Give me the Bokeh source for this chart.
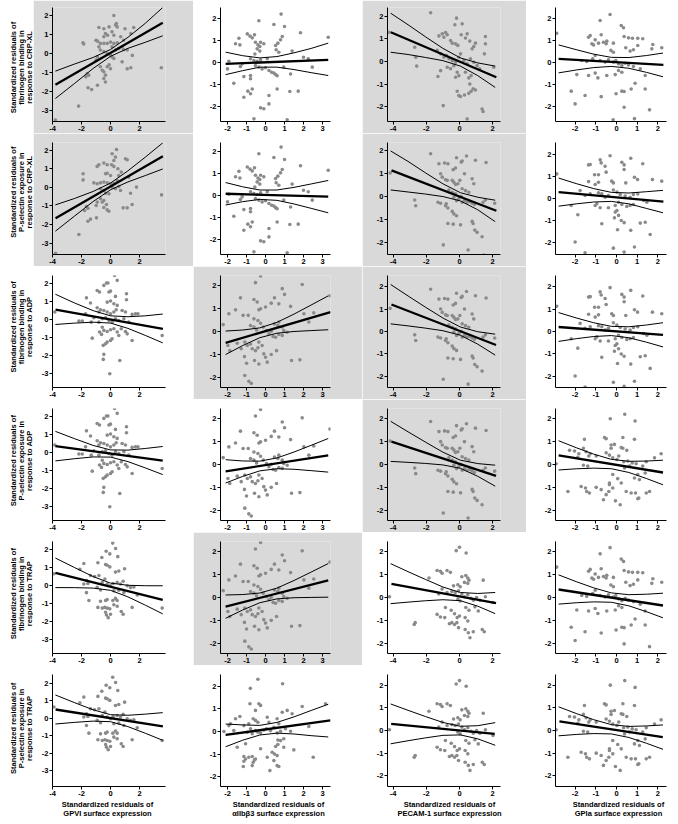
import math
from bokeh.plotting import figure
from bokeh.layouts import column, row
from bokeh.models import Range1d, FixedTicker, Spacer
from bokeh.core.properties import value
from bokeh.embed import file_html
from bokeh.resources import INLINE

# ---------------- text ----------------
ROW_LABELS = [
    ["Standardized residuals of", "fibrinogen binding in", "response to CRP-XL"],
    ["Standardized residuals of", "P-selectin exposure in", "response to CRP-XL"],
    ["Standardized residuals of", "fibrinogen binding in", "response to ADP"],
    ["Standardized residuals of", "P-selectin exposure in", "response to ADP"],
    ["Standardized residuals of", "fibrinogen binding in", "response to TRAP"],
    ["Standardized residuals of", "P-selectin exposure in", "response to TRAP"],
]
COL_LABELS = [
    ["Standardized residuals of", "GPVI surface expression"],
    ["Standardized residuals of", "\u03b1IIb\u03b23 surface expression"],
    ["Standardized residuals of", "PECAM-1 surface expression"],
    ["Standardized residuals of", "GPIa surface expression"],
]
X_TICKS = [[-4, -2, 0, 2], [-2, -1, 0, 1, 2, 3], [-4, -2, 0, 2], [-2, -1, 0, 1, 2]]
Y_TICKS = [[-3, -2, -1, 0, 1, 2], [-2, -1, 0, 1, 2], [-2, -1, 0, 1, 2], [-2, -1, 0, 1, 2]]
X_RANGES = [(-4.0, 3.79), (-2.37, 3.42), (-4.34, 2.47), (-2.95, 2.42)]
Y_RANGES = [
    [(-3.58, 2.42), (-2.68, 2.5), (-2.64, 2.38), (-2.68, 2.5)],
    [(-3.62, 2.43), (-2.68, 2.41), (-2.54, 2.37), (-2.55, 2.55)],
    [(-3.78, 2.44), (-2.43, 2.43), (-2.49, 2.49), (-2.49, 2.49)],
    [(-3.78, 2.44), (-2.45, 2.45), (-2.45, 2.45), (-2.45, 2.45)],
    [(-3.78, 2.44), (-2.45, 2.45), (-2.45, 2.45), (-2.45, 2.45)],
    [(-3.89, 2.51), (-2.42, 2.51), (-2.47, 2.47), (-2.47, 2.47)],
]
HIGHLIGHT = [(0, 0), (1, 0), (0, 2), (1, 2), (2, 1), (2, 2), (3, 2), (4, 1)]

# x positions at which the confidence bands were read, per column
CI_X = [
    [-3.8, -2.5, -1.2, 0.0, 1.2, 2.4, 3.6],
    [-2.1, -1.2, -0.3, 0.6, 1.5, 2.4, 3.3],
    [-4.15, -3.1, -2.05, -1.0, 0.05, 1.1, 2.15],
    [-2.8, -1.95, -1.1, -0.25, 0.6, 1.45, 2.25],
]

# ---------------- scatter data (x, y) ----------------
pts_r1c1 = [(0.23,2.0),(-2.2,-2.77),(3.5,-0.75),(-1.9,0.56),(-1.85,0.5),(-0.8,1.37),(-0.46,1.3),(-0.1,1.4),(0.35,1.5),(0.46,1.4),(0.4,1.58),(1.0,1.3),(1.4,1.05),(1.6,1.37),(-1.0,0.7),(-0.9,0.65),(-0.35,1.05),(-0.2,0.96),(-0.46,0.88),(0.1,1.14),(0.23,0.96),(-0.46,0.53),(-0.23,0.53),(0.0,0.6),(0.23,0.53),(0.46,0.56),(0.57,0.26),(0.8,0.35),(-0.7,0.18),(-0.46,0.1),(-0.23,0.0),(0.0,-0.1),(0.1,-0.18),(0.23,-0.26),(0.9,0.2),(1.15,0.18),(1.5,-0.1),(0.8,-0.44),(1.15,-0.8),(1.4,-0.75),(-0.9,-0.18),(-1.0,-0.35),(-0.7,-0.7),(-0.57,-0.88),(-0.46,-0.96),(-0.35,-1.14),(-0.23,-0.7),(-0.1,-0.6),(0.0,-0.8),(-0.46,-1.32),(-0.35,-1.5),(-1.6,-1.05),(-1.5,-1.14),(-1.7,-1.23),(-1.55,-1.8),(-1.3,-1.9),(-0.9,-1.67),(-0.7,0.53),(-0.8,0.35),(0.1,0.35),(0.35,0.18),(0.7,0.88),(0.9,0.7),(-3.8,-3.5)]
pts_r1c2 = [(-0.35,1.9),(0.82,2.2),(0.44,1.73),(1.0,1.64),(1.84,1.35),(3.3,1.15),(-0.96,1.3),(-0.82,1.2),(-0.7,1.12),(-0.58,1.26),(-1.4,1.1),(-1.58,0.85),(-1.35,0.8),(-0.53,0.92),(-0.4,0.8),(-0.26,0.92),(-0.3,0.73),(-0.09,0.85),(-0.44,0.62),(-0.3,0.52),(-0.56,0.39),(0.53,0.77),(0.65,0.88),(0.79,1.03),(0.88,1.18),(0.56,0.58),(0.7,0.47),(1.4,0.52),(2.0,0.24),(2.25,0.17),(-1.93,0.06),(-2.0,-0.29),(-1.32,-0.18),(-1.23,-0.06),(-0.79,0.17),(-0.61,0.09),(-0.44,0.05),(-0.26,0.12),(0.09,0.17),(-0.53,-0.14),(-0.35,-0.21),(-0.18,-0.29),(0.0,-0.24),(0.18,-0.36),(0.32,-0.44),(0.44,-0.48),(0.53,-0.55),(0.61,-0.6),(0.96,-0.21),(1.32,-0.52),(2.46,-0.21),(-0.79,-0.59),(-0.79,-0.74),(-1.14,-0.64),(-1.67,-0.94),(-0.93,-1.3),(-0.7,-1.2),(-0.79,-1.42),(-1.14,-1.58),(0.61,-1.2),(1.28,-1.32),(1.72,-1.3),(0.18,-1.5),(0.18,-1.88),(-0.26,-2.06),(-0.09,-2.1),(-0.61,-2.56),(1.14,-2.6)]
pts_r1c3 = [(-4.24,1.29),(-1.74,2.15),(-2.7,0.63),(-2.64,0.19),(-2.58,-0.2),(-1.24,1.13),(-1.04,1.22),(-0.94,1.07),(-0.84,1.28),(-0.74,1.18),(-0.18,1.91),(0.16,1.66),(-0.28,1.62),(0.1,1.18),(0.36,1.04),(0.46,1.22),(0.62,0.9),(0.96,0.81),(0.86,0.66),(0.76,0.56),(1.56,1.1),(1.56,0.78),(1.5,0.34),(-0.54,0.93),(-0.44,0.81),(-0.24,0.78),(-0.1,0.71),(-1.34,0.49),(-1.14,0.34),(-0.94,0.19),(-0.78,0.26),(-0.64,0.12),(-0.44,0.04),(-0.24,-0.03),(-0.04,0.19),(0.06,0.34),(0.26,0.04),(0.46,-0.1),(0.66,0.12),(0.86,-0.03),(1.06,-0.18),(1.22,-0.32),(-0.74,-0.25),(-0.54,-0.32),(-0.34,-0.18),(-1.14,-0.4),(-1.3,-0.66),(-0.14,-0.47),(-0.04,-0.62),(-0.24,-0.69),(0.36,-0.47),(0.56,-0.72),(0.7,-0.62),(0.62,-0.99),(0.82,-1.2),(0.96,-1.25),(-0.14,-1.31),(-0.04,-1.5),(0.06,-1.54),(0.3,-1.47),(0.56,-1.4),(0.7,-1.31),(-0.98,-1.94),(1.36,-2.09),(1.42,-2.2),(0.46,-2.53),(2.06,-0.25)]
pts_r1c4 = [(-2.89,1.33),(-0.31,2.18),(-0.79,1.91),(0.23,1.68),(0.34,1.58),(-1.35,1.15),(-1.27,1.23),(-1.03,1.03),(-0.87,0.88),(-1.11,0.8),(-1.19,0.85),(-0.74,1.26),(-0.63,0.92),(-0.5,0.85),(-0.47,0.97),(-0.15,0.88),(0.37,1.18),(0.58,1.12),(0.77,1.1),(1.03,1.1),(1.27,1.08),(0.45,0.67),(0.66,0.52),(0.82,0.58),(1.03,0.77),(1.76,0.82),(1.71,0.62),(2.19,0.67),(-0.27,0.55),(-0.15,0.47),(-1.03,0.32),(-1.15,0.17),(-1.68,0.09),(-1.44,0.05),(-0.79,0.09),(-0.55,0.02),(-0.39,0.12),(-0.15,0.02),(-0.03,0.09),(0.1,-0.06),(0.26,-0.14),(0.42,-0.03),(0.58,-0.11),(0.82,-0.18),(1.15,-0.29),(1.39,-0.59),(-1.92,-0.55),(-1.35,-0.59),(-1.03,-0.48),(-0.9,-0.7),(-0.47,-0.59),(-0.06,-0.55),(0.1,-0.36),(0.26,-0.44),(-2.19,-1.3),(-1.52,-1.5),(-2.0,-1.88),(-0.74,-1.55),(-0.02,-1.42),(0.26,-1.3),(0.37,-1.32),(0.71,-1.2),(0.9,-0.94),(1.39,-1.2),(0.37,-2.03),(1.6,-2.15),(-0.16,-2.6),(0.87,-2.55)]
pts_r2c1 = [(-2.18,-2.54),(3.52,-0.4),(-3.79,-3.55),(0.41,2.05),(0.11,1.82),(0.34,1.64),(0.23,1.46),(1.03,1.55),(1.15,1.5),(-0.92,1.14),(-0.8,1.23),(-0.46,1.32),(-0.23,1.23),(0.07,1.23),(0.23,1.14),(0.51,1.01),(-0.34,0.74),(-0.23,0.77),(0.0,0.65),(-1.89,0.74),(-1.89,0.41),(-1.15,0.25),(-0.92,0.2),(-0.69,0.25),(-0.46,0.29),(-0.23,0.25),(0.0,0.2),(0.23,0.23),(0.46,0.38),(0.57,0.65),(0.74,0.83),(1.26,0.56),(-0.69,-0.07),(-0.46,-0.16),(-0.34,-0.31),(-0.11,-0.34),(0.11,0.02),(0.34,-0.07),(0.57,0.05),(0.69,-0.16),(1.38,-0.31),(1.79,0.02),(-0.69,-0.61),(-0.57,-0.79),(-0.46,-0.7),(-0.28,-0.92),(-0.92,-0.79),(-0.99,-0.97),(-0.46,-1.08),(-0.23,-1.21),(-0.11,-1.28),(0.87,-1.1),(1.15,-1.1),(1.49,-0.92),(-1.66,-1.03),(-1.56,-1.12),(-1.79,-1.24),(-0.97,-1.64),(-1.56,-1.82),(-1.38,-1.71)]
pts_r2c3 = [(-4.18,1.03),(-1.74,1.88),(-2.7,-0.15),(-2.64,-0.4),(-1.24,1.44),(-0.9,1.47),(-0.7,1.44),(-0.18,1.7),(0.1,1.51),(0.16,1.56),(0.42,1.78),(0.96,1.59),(1.6,1.49),(-0.38,1.18),(-0.24,1.25),(0.3,1.0),(-1.14,1.0),(-1.04,0.85),(-0.84,0.74),(-0.74,0.71),(-0.44,0.71),(-0.34,0.63),(-0.24,0.53),(-0.1,0.56),(0.02,0.71),(0.76,0.78),(0.86,0.56),(0.16,0.34),(0.36,0.26),(0.56,0.19),(-0.64,0.29),(-0.44,0.19),(-0.24,0.12),(-1.3,-0.25),(-1.14,-0.29),(-0.84,-0.4),(-0.7,-0.5),(-0.8,-0.32),(-0.34,-0.03),(-0.18,-0.18),(-0.04,-0.1),(0.1,0.0),(0.16,-0.25),(0.3,-0.18),(0.46,-0.25),(0.62,-0.22),(0.76,-0.29),(0.9,-0.35),(1.42,-0.25),(1.56,-0.15),(2.12,-0.29),(-0.44,-0.65),(-0.34,-0.76),(-0.18,-0.84),(-0.7,-1.18),(-0.38,-1.21),(0.06,-1.24),(0.76,-1.09),(0.82,-1.18),(0.92,-1.47),(1.06,-1.57),(1.36,-1.76),(-0.98,-2.12),(0.52,-2.34),(1.46,-2.56),(-0.04,-2.6)]
pts_r2c4 = [(-2.89,1.12),(-0.31,1.95),(0.69,1.83),(1.27,1.58),(-1.35,1.53),(-1.27,1.55),(-0.79,1.76),(-0.74,1.62),(-0.55,1.47),(-0.5,1.2),(-1.06,1.08),(-0.87,1.08),(0.26,1.65),(0.37,1.53),(0.37,1.32),(0.87,0.97),(1.02,0.86),(1.74,0.86),(2.19,0.79),(-1.35,0.77),(-1.03,0.64),(-0.87,0.74),(-0.23,0.79),(-0.15,0.71),(0.45,0.71),(-1.76,0.36),(-1.52,0.14),(-1.27,0.21),(-0.87,0.26),(-0.71,0.21),(-0.15,0.39),(0.02,0.29),(0.18,0.18),(0.42,0.11),(0.66,0.06),(0.82,0.18),(-0.55,0.06),(-0.39,0.14),(1.03,0.21),(1.31,-0.09),(1.47,-0.17),(-2.19,-0.32),(-1.03,-0.32),(-0.95,-0.24),(-0.79,-0.42),(-0.39,-0.42),(-0.06,-0.32),(0.1,-0.17),(0.26,-0.27),(0.5,-0.36),(0.66,-0.32),(0.82,-0.27),(-1.87,-0.74),(-0.06,-0.62),(0.02,-0.55),(0.1,-0.77),(-0.1,-0.88),(-0.71,-1.15),(0.23,-1.0),(0.37,-1.1),(1.15,-1.12),(1.39,-1.08),(1.63,-1.64),(0.05,-1.42),(0.69,-1.45),(-2.0,-1.98),(-0.15,-2.26),(0.87,-2.21),(-1.52,-2.47),(0.37,-2.44)]
pts_r3c1 = [(-3.84,0.41),(3.56,-0.89),(0.28,2.44),(0.46,2.17),(-0.28,2.02),(-0.11,1.52),(0.0,1.57),(-0.92,1.61),(-0.76,1.52),(-0.46,1.89),(-0.18,2.02),(-1.66,1.2),(-1.38,0.91),(1.1,1.43),(1.1,1.09),(0.34,1.28),(-0.23,0.96),(0.0,1.02),(0.23,0.87),(0.46,0.78),(-0.92,0.65),(-0.69,0.54),(-0.8,0.41),(-0.46,0.5),(-0.23,0.41),(0.0,0.31),(0.23,0.41),(0.39,0.54),(0.8,0.5),(1.03,0.41),(-1.72,0.31),(-1.95,-0.09),(-2.18,-0.09),(-1.33,-0.15),(-1.15,0.09),(-0.8,-0.15),(-0.57,0.04),(-0.34,0.09),(-0.11,-0.06),(0.11,-0.15),(0.34,0.04),(0.57,-0.06),(1.49,0.28),(1.72,0.31),(1.89,0.31),(0.92,0.04),(1.26,-0.15),(-0.57,-0.43),(-0.46,-0.61),(-0.23,-0.67),(0.0,-0.57),(0.23,-0.52),(0.46,-0.7),(0.57,-0.89),(0.74,-0.52),(1.03,-0.67),(1.15,-0.8),(1.49,-1.17),(-1.26,-1.04),(-0.76,-0.7),(-0.62,-0.83),(-0.5,-1.44),(-0.34,-1.35),(-0.23,-1.26),(0.0,-1.17),(0.11,-1.07),(-0.46,-1.94),(-0.5,-2.22),(0.64,-2.28),(-0.05,-3.02)]
pts_r3c2 = [(-2.23,0.3),(-1.93,0.77),(-1.58,0.94),(-1.32,1.46),(-1.18,0.7),(-0.91,0.7),(-0.53,2.12),(-0.26,2.41),(-0.61,1.39),(-0.44,1.28),(-0.35,0.94),(-0.26,0.99),(0.0,1.06),(0.3,1.23),(0.47,1.46),(0.7,1.2),(0.88,1.86),(1.0,1.61),(1.93,2.04),(1.32,1.09),(2.02,0.77),(2.28,0.41),(2.54,0.81),(3.39,1.55),(-0.61,0.55),(-0.4,0.48),(-0.26,0.36),(-0.79,0.26),(-0.61,0.19),(-0.47,0.07),(-0.12,0.19),(0.05,0.04),(0.18,-0.1),(0.3,0.01),(0.4,-0.22),(0.53,-0.25),(0.7,-0.13),(0.88,-0.17),(0.7,0.41),(0.88,0.19),(0.96,0.04),(0.47,0.33),(0.65,0.26),(1.14,-0.03),(-1.98,-0.61),(-1.88,-0.83),(-1.49,-0.51),(-1.28,-0.75),(-1.09,-0.46),(-0.96,-0.61),(-0.79,-0.54),(-0.7,-0.75),(-0.53,-0.83),(-0.4,-0.71),(-0.35,-0.46),(-0.18,-0.61),(-0.09,-0.97),(0.0,-1.12),(0.3,-1.0),(0.58,-0.83),(-1.11,-1.09),(-1.0,-1.38),(-0.58,-1.26),(-0.35,-1.41),(0.09,-1.33),(1.37,-1.26),(1.81,-1.23),(-1.09,-1.91),(-0.88,-2.16),(-0.75,-2.25)]
pts_r6c1 = [(-2.11,0.9),(-1.84,1.22),(-0.87,1.26),(-0.34,1.16),(-0.23,1.12),(-0.05,1.03),(0.34,0.74),(0.57,0.8),(0.97,0.93),(-1.66,0.27),(-1.38,0.55),(-1.1,0.5),(-0.8,0.55),(-1.84,0.08),(-1.56,0.11),(-0.57,0.17),(-0.39,0.36),(-0.23,0.08),(0.0,-0.02),(0.18,0.11),(0.46,0.17),(0.69,0.08),(0.87,0.23),(1.15,-0.02),(1.38,-0.11),(1.61,-0.08),(1.84,-0.53),(-0.92,-0.11),(-0.69,-0.25),(0.23,-0.3),(0.57,-0.27),(0.92,-0.4),(-1.66,-0.4),(-1.49,-0.84),(-0.69,-0.88),(-0.34,-0.84),(-0.23,-0.78),(0.16,-0.84),(0.34,-0.72),(0.46,-0.84),(-0.87,-1.22),(-0.57,-1.26),(-0.39,-1.22),(-0.23,-1.26),(-0.05,-1.3),(0.23,-1.07),(0.46,-1.16),(0.74,-1.45),(0.87,-1.6),(1.49,-1.22),(-0.34,-1.49),(-0.28,-1.64),(-0.16,-1.79),(0.0,-1.6),(3.56,-1.26),(-3.9,0.65),(0.15,2.35),(0.35,2.05),(-0.3,1.9),(-0.05,1.75),(0.5,1.6),(-0.6,1.55)]
pts_r6c2 = [(-2.19,0.0),(-1.93,0.26),(-1.84,0.34),(-1.58,0.56),(-1.35,0.66),(-0.82,1.22),(-0.35,1.22),(-0.26,1.15),(-0.53,0.93),(-0.65,0.56),(-0.53,0.49),(-0.4,0.41),(0.09,0.63),(0.18,0.41),(0.61,0.56),(0.88,0.85),(1.14,0.93),(1.4,0.78),(1.93,1.1),(2.28,0.22),(3.16,1.22),(-0.88,0.34),(-0.79,0.12),(-0.53,0.04),(-0.4,-0.03),(-0.26,-0.07),(-0.09,0.07),(0.05,0.12),(0.26,0.04),(0.44,0.19),(0.7,0.34),(0.61,-0.07),(0.79,0.01),(1.05,0.12),(1.32,0.01),(-1.14,0.26),(-1.67,0.04),(-0.96,-0.03),(-0.7,-0.1),(-1.49,-0.69),(-1.05,-0.54),(-0.26,-0.76),(0.65,-0.37),(0.79,-0.4),(0.96,-0.32),(0.53,-0.66),(0.65,-0.57),(0.96,-0.69),(1.49,-0.81),(-1.14,-1.1),(-1.05,-1.21),(-0.88,-1.13),(-0.7,-1.1),(-0.53,-1.21),(-0.65,-1.35),(-0.58,-1.25),(-1.14,-1.31),(-1.17,-1.54),(-0.7,-1.5),(0.35,-0.91),(0.47,-0.99),(0.61,-1.06),(0.09,-1.13),(0.44,-1.28),(0.61,-1.5),(0.7,-1.54),(0.23,-1.72),(2.51,-1.13),(-0.4,2.3),(0.9,2.1),(-0.8,1.9)]
pts_r6c3 = [(-4.22,0.03),(-2.73,-1.18),(-2.67,-1.1),(-1.84,0.85),(-1.35,1.18),(-1.15,1.15),(-1.05,1.06),(-0.75,1.18),(-0.55,1.1),(0.14,0.91),(0.38,0.96),(0.5,0.85),(0.3,0.66),(0.5,0.62),(0.57,0.76),(1.43,0.76),(-0.36,0.51),(-0.1,0.56),(0.04,0.47),(-1.05,0.37),(-0.75,0.22),(-0.46,0.26),(-0.26,0.22),(-0.06,0.29),(-1.25,0.15),(0.14,0.15),(0.3,0.03),(0.5,0.12),(0.69,-0.03),(0.83,-0.12),(1.03,0.0),(1.23,-0.12),(1.56,0.03),(2.02,-0.22),(-0.1,-0.07),(0.04,-0.15),(-0.85,-0.44),(-0.5,-0.56),(0.38,-0.44),(0.57,-0.56),(0.93,-0.41),(-1.35,-0.74),(-1.15,-0.85),(-0.89,-0.88),(-0.3,-0.71),(-0.14,-0.88),(0.0,-0.81),(0.34,-0.88),(0.5,-1.03),(1.13,-0.59),(-0.61,-1.15),(-0.46,-1.1),(-0.3,-1.18),(-0.16,-1.1),(-0.06,-1.32),(0.34,-1.4),(0.53,-1.54),(0.83,-1.5),(1.37,-1.4),(1.49,-1.5),(0.63,-1.76),(0.0,2.2),(0.4,1.95),(-0.2,2.05)]
pts_r6c4 = [(-2.92,0.03),(-2.27,0.62),(-2.03,0.59),(-1.82,0.47),(-1.87,0.32),(-1.6,0.71),(-1.47,0.56),(-1.55,1.1),(-1.34,0.37),(-1.27,0.47),(-0.98,0.37),(-0.58,1.18),(-0.5,1.13),(-0.26,0.85),(-0.1,0.88),(-0.26,0.71),(0.31,1.18),(0.23,0.74),(0.31,0.71),(0.5,0.62),(0.87,1.1),(-0.5,0.51),(-0.34,0.41),(-0.18,0.29),(0.02,0.22),(0.11,0.37),(0.35,0.12),(0.55,0.15),(0.76,0.07),(0.95,0.03),(1.27,-0.07),(1.44,0.12),(1.84,0.29),(2.16,0.47),(-1.6,-0.03),(-1.39,-0.07),(0.39,-0.15),(0.63,-0.07),(1.03,-0.44),(0.87,-0.59),(1.11,-0.66),(1.39,-0.37),(-0.18,-0.44),(0.06,-0.62),(-0.34,-0.81),(0.23,-0.81),(-1.71,-0.96),(-1.5,-1.03),(-2.35,-1.18),(-1.44,-1.18),(-1.31,-1.25),(-0.98,-1.0),(-0.74,-1.1),(-0.34,-0.88),(-0.18,-1.03),(-0.5,-1.32),(-0.37,-1.18),(-0.05,-1.59),(0.18,-1.76),(0.47,-1.18),(0.71,-1.25),(0.92,-1.25),(1.03,-1.5),(1.08,-1.47),(1.44,-1.25),(-0.63,-1.54),(1.6,-1.18),(0.4,2.2),(-0.3,2.0),(0.9,1.9)]
# provisional: panels still to be read in detail
pts_r2c2 = pts_r1c2
pts_r3c3 = pts_r2c3
pts_r3c4 = pts_r2c4
pts_r4c1 = pts_r3c1
pts_r4c2 = pts_r3c2
pts_r4c3 = pts_r2c3
pts_r4c4 = pts_r6c4
pts_r5c1 = pts_r6c1
pts_r5c2 = pts_r3c2
pts_r5c3 = pts_r6c3
pts_r5c4 = pts_r1c4

# ---------------- fitted lines (x0, y0, x1, y1) ----------------
fit_r1c1 = (-3.8, -1.65, 3.6, 1.62)
fit_r1c2 = (-2.1, -0.06, 3.3, 0.12)
fit_r1c3 = (-4.14, 1.29, 2.22, -0.69)
fit_r1c4 = (-2.8, 0.17, 2.27, -0.11)
fit_r2c1 = (-3.79, -1.66, 3.61, 1.69)
fit_r2c2 = (-2.1, 0.08, 3.3, -0.05)
fit_r2c3 = (-4.1, 1.15, 2.22, -0.62)
fit_r2c4 = (-2.8, 0.29, 2.27, -0.14)
fit_r3c1 = (-3.79, 0.54, 3.61, -0.52)
fit_r3c2 = (-2.1, -0.49, 3.42, 0.84)
fit_r3c3 = (-4.1, 1.2, 2.2, -0.6)
fit_r3c4 = (-2.8, 0.2, 2.25, -0.15)
fit_r4c1 = (-3.8, 0.35, 3.6, -0.45)
fit_r4c2 = (-2.1, -0.3, 3.3, 0.4)
fit_r4c3 = (-4.1, 1.0, 2.2, -0.5)
fit_r4c4 = (-2.8, 0.4, 2.25, -0.35)
fit_r5c1 = (-3.8, 0.7, 3.6, -0.8)
fit_r5c2 = (-2.1, -0.4, 3.3, 0.75)
fit_r5c3 = (-4.1, 0.6, 2.2, -0.25)
fit_r5c4 = (-2.8, 0.35, 2.25, -0.35)
fit_r6c1 = (-3.79, 0.51, 3.61, -0.46)
fit_r6c2 = (-2.1, -0.15, 3.42, 0.49)
fit_r6c3 = (-4.12, 0.29, 2.12, -0.15)
fit_r6c4 = (-2.76, 0.4, 2.24, -0.29)

# ---------------- 95% bands, read at CI_X of the column ----------------
up_r1c1 = [-0.93, -0.56, -0.21, 0.21, 0.85, 1.59, 2.42]
lo_r1c1 = [-2.37, -1.59, -0.79, -0.15, 0.27, 0.59, 0.93]
up_r1c2 = [0.47, 0.31, 0.21, 0.27, 0.44, 0.64, 0.88]
lo_r1c2 = [-0.55, -0.37, -0.21, -0.21, -0.32, -0.46, -0.59]
up_r1c3 = [2.13, 1.62, 1.09, 0.58, 0.16, -0.06, -0.20]
lo_r1c3 = [0.41, 0.31, 0.18, 0.04, -0.20, -0.62, -1.14]
up_r1c4 = [0.80, 0.585, 0.38, 0.234, 0.226, 0.317, 0.43]
lo_r1c4 = [-0.47, -0.34, -0.23, -0.176, -0.262, -0.447, -0.647]
up_r2c1 = [-0.94, -0.60, -0.215, 0.236, 0.90, 1.64, 2.41]
lo_r2c1 = [-2.36, -1.556, -0.759, -0.124, 0.30, 0.645, 1.0]
up_r2c2 = [0.59, 0.396, 0.25, 0.251, 0.371, 0.526, 0.685]
lo_r2c2 = [-0.43, -0.278, -0.176, -0.219, -0.383, -0.582, -0.785]
up_r2c3 = [2.0, 1.54, 1.04, 0.56, 0.17, -0.03, -0.16]
lo_r2c3 = [0.29, 0.20, 0.11, 0.0, -0.19, -0.58, -1.1]
up_r2c4 = [0.93, 0.68, 0.45, 0.28, 0.25, 0.31, 0.37]
lo_r2c4 = [-0.35, -0.244, -0.16, -0.131, -0.242, -0.452, -0.65]
up_r3c1 = [1.4, 0.92, 0.49, 0.2, 0.15, 0.2, 0.3]
lo_r3c1 = [-0.28, -0.205, -0.152, -0.203, -0.496, -0.887, -1.30]
up_r3c2 = [0.02, 0.064, 0.157, 0.396, 0.755, 1.148, 1.546]
lo_r3c2 = [-1.0, -0.61, -0.269, -0.074, 0.001, 0.04, 0.076]
up_r3c3 = [2.09, 1.58, 1.08, 0.60, 0.20, -0.01, -0.12]
lo_r3c3 = [0.34, 0.25, 0.15, 0.035, -0.165, -0.563, -1.05]
up_r3c4 = [0.84, 0.604, 0.389, 0.229, 0.21, 0.289, 0.39]
lo_r3c4 = [-0.44, -0.32, -0.223, -0.181, -0.278, -0.475, -0.686]
up_r4c1 = [1.17, 0.77, 0.39, 0.14, 0.13, 0.22, 0.33]
lo_r4c1 = [-0.47, -0.35, -0.25, -0.26, -0.51, -0.86, -1.23]
up_r4c2 = [0.21, 0.154, 0.147, 0.286, 0.545, 0.839, 1.137]
lo_r4c2 = [-0.81, -0.52, -0.279, -0.184, -0.209, -0.269, -0.333]
up_r4c3 = [1.89, 1.43, 0.98, 0.54, 0.19, 0.04, -0.03]
lo_r4c3 = [0.136, 0.094, 0.046, -0.018, -0.168, -0.516, -0.95]
up_r4c4 = [1.04, 0.736, 0.453, 0.226, 0.139, 0.151, 0.188]
lo_r4c4 = [-0.24, -0.188, -0.159, -0.184, -0.349, -0.613, -0.888]
up_r5c1 = [1.52, 1.0, 0.494, 0.13, 0.008, -0.016, -0.02]
lo_r5c1 = [-0.12, -0.123, -0.148, -0.27, -0.634, -1.096, -1.58]
up_r5c2 = [0.11, 0.129, 0.196, 0.41, 0.744, 1.112, 1.485]
lo_r5c2 = [-0.91, -0.545, -0.23, -0.06, -0.01, 0.004, 0.015]
up_r5c3 = [1.48, 1.13, 0.79, 0.46, 0.22, 0.176, 0.219]
lo_r5c3 = [-0.269, -0.203, -0.142, -0.098, -0.14, -0.38, -0.705]
up_r5c4 = [0.99, 0.694, 0.421, 0.202, 0.123, 0.143, 0.188]
lo_r5c4 = [-0.29, -0.23, -0.191, -0.208, -0.365, -0.621, -0.888]
up_r6c1 = [1.34, 0.908, 0.494, 0.213, 0.18, 0.246, 0.33]
lo_r6c1 = [-0.32, -0.226, -0.154, -0.187, -0.468, -0.848, -1.25]
up_r6c2 = [0.33, 0.29, 0.27, 0.40, 0.645, 0.926, 1.2]
lo_r6c2 = [-0.67, -0.382, -0.154, -0.071, -0.109, -0.182, -0.24]
up_r6c3 = [1.17, 0.89, 0.615, 0.355, 0.186, 0.212, 0.348]
lo_r6c3 = [-0.587, -0.451, -0.325, -0.215, -0.194, -0.368, -0.652]
up_r6c4 = [1.045, 0.75, 0.477, 0.259, 0.18, 0.201, 0.246]
lo_r6c4 = [-0.235, -0.174, -0.135, -0.151, -0.308, -0.563, -0.83]

G = globals()
PANELS = [[dict(pts=G[f"pts_r{r}c{c}"], fit=G[f"fit_r{r}c{c}"],
                up=G[f"up_r{r}c{c}"], lo=G[f"lo_r{r}c{c}"])
           for c in range(1, 5)] for r in range(1, 7)]

# ---------------- layout / style ----------------
FONT = "Liberation Sans"
GREY = "#d9d9d9"
DOT = "#8a8a8a"
LABEL_W = 33
COL_W = [160, 169, 164, 151]
BORDER_L = [19, 27, 25, 29]
BORDER_R = [28, 32, 26, 11]
ROW_H = [133, 133, 133, 133, 133, 133]
BORDER_T = [7, 9, 9, 9, 9, 9]
BORDER_B = 12
ROWLAB_OFF = [70, 59, 61, 62, 62, 64]
ROWLAB_X = [13, 21.3, 29]
XLAB_H = 25
XLAB_Y = [19, 10]
XLAB_CX = [74, 85, 87, 92]


def panel(r, c):
    d = PANELS[r][c]
    bg = GREY if (r, c) in HIGHLIGHT else "white"
    p = figure(width=COL_W[c], height=ROW_H[r],
               x_range=Range1d(*X_RANGES[c]), y_range=Range1d(*Y_RANGES[r][c]),
               output_backend="svg", toolbar_location=None, tools="",
               min_border_left=BORDER_L[c], min_border_right=BORDER_R[c],
               min_border_top=BORDER_T[r], min_border_bottom=BORDER_B)
    p.background_fill_color = bg
    p.border_fill_color = bg
    p.outline_line_color = None
    p.xgrid.visible = False
    p.ygrid.visible = False
    p.xaxis.ticker = FixedTicker(ticks=X_TICKS[c])
    p.yaxis.ticker = FixedTicker(ticks=Y_TICKS[c])
    p.xaxis.major_label_overrides = {t: str(t) for t in X_TICKS[c]}
    p.yaxis.major_label_overrides = {t: str(t) for t in Y_TICKS[c]}
    for ax in (p.xaxis[0], p.yaxis[0]):
        ax.axis_line_color = "black"
        ax.axis_line_width = 1
        ax.major_tick_line_color = "black"
        ax.major_tick_out = 3
        ax.major_tick_in = 0
        ax.minor_tick_line_color = None
        ax.major_label_text_font = FONT
        ax.major_label_text_font_style = "bold"
        ax.major_label_text_font_size = "7.5px"
        ax.major_label_text_color = "black"
        ax.major_label_standoff = 1
    xs = [q[0] for q in d["pts"]]
    ys = [q[1] for q in d["pts"]]
    p.scatter(xs, ys, marker="circle", size=3.6, fill_color=DOT, line_color=None)
    p.line(CI_X[c], d["up"], line_color="black", line_width=1)
    p.line(CI_X[c], d["lo"], line_color="black", line_width=1)
    f = d["fit"]
    p.line([f[0], f[2]], [f[1], f[3]], line_color="black", line_width=2.3)
    return p


def row_label(r):
    h = ROW_H[r]
    p = figure(width=LABEL_W, height=h, x_range=Range1d(0, LABEL_W), y_range=Range1d(0, h),
               output_backend="svg", toolbar_location=None, tools="",
               x_axis_type=None, y_axis_type=None, min_border=0)
    p.outline_line_color = None
    p.xgrid.visible = False
    p.ygrid.visible = False
    yc = h - ROWLAB_OFF[r]
    p.text(x=ROWLAB_X, y=[yc] * 3, text=ROW_LABELS[r], angle=math.pi / 2,
           text_align="center", text_baseline="middle", text_font=value(FONT),
           text_font_style="bold", text_font_size="7.5px", text_color="black")
    return p


def col_label(c):
    w = COL_W[c]
    p = figure(width=w, height=XLAB_H, x_range=Range1d(0, w), y_range=Range1d(0, XLAB_H),
               output_backend="svg", toolbar_location=None, tools="",
               x_axis_type=None, y_axis_type=None, min_border=0)
    p.outline_line_color = None
    p.xgrid.visible = False
    p.ygrid.visible = False
    p.text(x=[XLAB_CX[c]] * 2, y=XLAB_Y, text=COL_LABELS[c],
           text_align="center", text_baseline="middle", text_font=value(FONT),
           text_font_style="bold", text_font_size="7.5px", text_color="black")
    return p


rows = []
for r in range(6):
    rows.append(row([row_label(r)] + [panel(r, c) for c in range(4)], spacing=0))
rows.append(row([Spacer(width=LABEL_W, height=XLAB_H)] + [col_label(c) for c in range(4)], spacing=0))
layout = column(rows, spacing=0)

open("out.html", "w").write(file_html(layout, INLINE))
